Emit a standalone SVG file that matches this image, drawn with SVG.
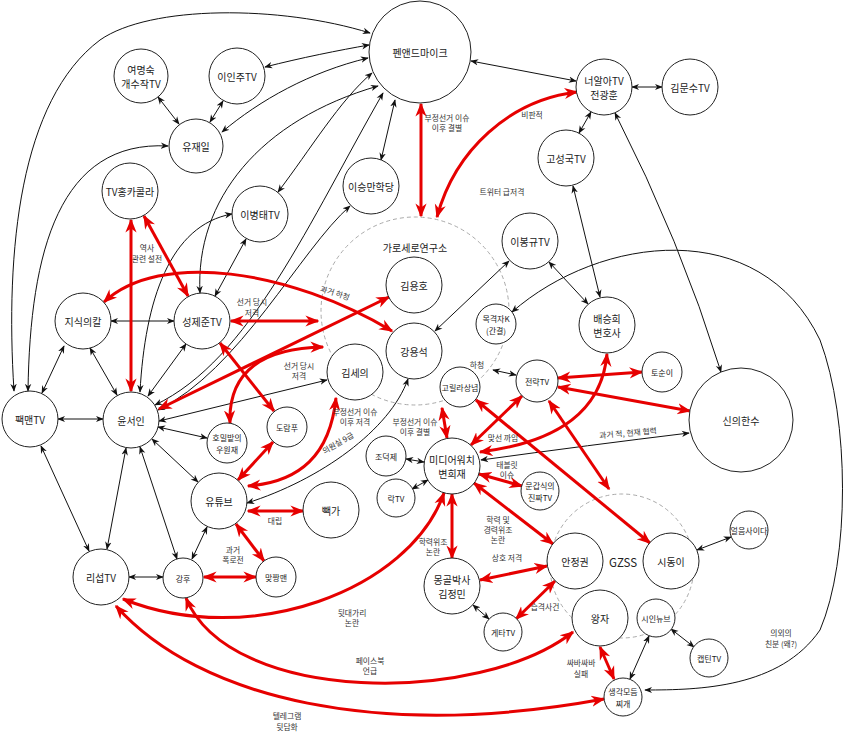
<svg xmlns="http://www.w3.org/2000/svg" width="850" height="732" viewBox="0 0 850 732">
<defs>
<style>
.n circle{fill:#fff;stroke:#222;stroke-width:1}
.g circle{fill:none;stroke:#aaa;stroke-width:1;stroke-dasharray:4 3}
text{font-family:"Noto Sans CJK KR","Noto Sans",sans-serif;text-anchor:middle;fill:#222}
.t{font-size:10px;dominant-baseline:central}
.s{font-size:8px;dominant-baseline:central}
.l{font-size:7.8px;fill:#333}
.b{fill:none;stroke:#111;stroke-width:1;marker-start:url(#ab);marker-end:url(#ab)}
.r{fill:none;stroke:#e60000;stroke-width:3;marker-start:url(#ar);marker-end:url(#ar)}
</style>
<marker id="ab" viewBox="0 0 10 10" refX="9" refY="5" markerWidth="8" markerHeight="8" markerUnits="userSpaceOnUse" orient="auto-start-reverse"><path d="M0,1 L10,5 L0,9 L3,5 z" fill="#111"/></marker>
<marker id="ar" viewBox="0 0 10 10" refX="9" refY="5" markerWidth="14" markerHeight="14" markerUnits="userSpaceOnUse" orient="auto-start-reverse"><path d="M0,1 L10,5 L0,9 L3,5 z" fill="#e60000"/></marker>
</defs>
<rect width="850" height="732" fill="#fff"/>

<g id="groups" class="g">
<circle cx="415" cy="311" r="94"/>
<circle cx="622" cy="566" r="72"/>
</g>

<g id="connectors">
<path class="b" d="M14,391 C5,250 20,100 100,40 C150,5 280,5 370,33"/>
<path class="b" d="M28,391 C30,250 60,140 168,146"/>
<path class="b" d="M158,97 L179,124"/>
<path class="b" d="M223,101 L210,122"/>
<path class="b" d="M265,67 C300,58 340,50 369,45"/>
<path class="b" d="M222,132 C260,100 310,72 368,58"/>
<path class="b" d="M278,192 C310,150 340,100 372,73"/>
<path class="b" d="M200,293 C195,200 260,120 378,86"/>
<path class="b" d="M140,392 C145,300 170,225 232,214"/>
<path class="b" d="M155,405 C250,360 310,220 383,93"/>
<path class="b" d="M158,410 C240,370 300,250 350,206"/>
<path class="b" d="M159,421 L327,380"/>
<path class="b" d="M381,160 L395,100"/>
<path class="b" d="M111,321 L174,321"/>
<path class="b" d="M64,346 L42,393"/>
<path class="b" d="M90,348 L117,395"/>
<path class="b" d="M186,344 L148,396"/>
<path class="b" d="M215,296 L246,239"/>
<path class="b" d="M58,419 L103,419"/>
<path class="b" d="M41,446 L89,551"/>
<path class="b" d="M126,448 L107,549"/>
<path class="b" d="M140,447 L177,559"/>
<path class="b" d="M158,427 L207,438"/>
<path class="b" d="M152,439 L198,482"/>
<path class="b" d="M207,527 L192,559"/>
<path class="b" d="M129,577 L163,577"/>
<path class="b" d="M247,503 C320,480 390,430 408,379"/>
<path class="b" d="M509,261 L435,331"/>
<path class="b" d="M549,262 L588,304"/>
<path class="b" d="M573,186 L600,297"/>
<path class="b" d="M591,112 L579,133"/>
<path class="b" d="M632,87 L662,87"/>
<path class="b" d="M471,61 L576,81"/>
<path class="b" d="M615,113 Q680,240 721,372"/>
<path class="b" d="M512,312 C600,235 760,215 820,340 C850,420 850,560 820,630 C780,688 700,690 645,690"/>
<path class="b" d="M493,370 L516,375"/>
<path class="b" d="M406,459 L424,462"/>
<path class="b" d="M412,489 L428,480"/>
<path class="b" d="M481,460 Q590,445 689,433"/>
<path class="b" d="M473,605 L489,619"/>
<path class="b" d="M697,550 L731,537"/>
<path class="b" d="M671,629 L694,647"/>
<path class="b" d="M649,636 L630,679"/>

<path class="r" d="M421,104 L421,216"/>
<path class="r" d="M437,217 C455,150 510,100 577,92"/>
<path class="r" d="M131,220 L131,391"/>
<path class="r" d="M144,216 L188,296"/>
<path class="r" d="M104,302 C160,250 290,270 392,331"/>
<path class="r" d="M231,321 L318,321"/>
<path class="r" d="M159,409 L389,297"/>
<path class="r" d="M220,343 L274,411"/>
<path class="r" d="M230,423 C228,370 265,348 323,347"/>
<path class="r" d="M273,442 L238,480"/>
<path class="r" d="M336,398 C330,455 300,482 248,486"/>
<path class="r" d="M248,511 L303,511"/>
<path class="r" d="M236,524 L264,561"/>
<path class="r" d="M204,577 L256,577"/>
<path class="r" d="M442,408 L447,438"/>
<path class="r" d="M480,452 C560,442 602,410 607,354"/>
<path class="r" d="M471,445 L522,396"/>
<path class="r" d="M558,378 L642,372"/>
<path class="r" d="M558,387 L690,411"/>
<path class="r" d="M549,401 L609,489"/>
<path class="r" d="M476,400 L650,543"/>
<path class="r" d="M479,474 L522,486"/>
<path class="r" d="M452,494 L452,558"/>
<path class="r" d="M474,483 L553,544"/>
<path class="r" d="M480,580 L547,566"/>
<path class="r" d="M516,619 L555,581"/>
<path class="r" d="M444,493 C410,590 250,650 123,599"/>
<path class="r" d="M186,598 C230,705 480,705 573,632"/>
<path class="r" d="M116,606 C200,700 380,740 604,699"/>
<path class="r" d="M600,647 L614,679"/>
</g>

<g id="edge-labels">
<text class="l" x="447" y="121">부정선거 이슈</text><text class="l" x="447" y="131">이후 결별</text>
<text class="l" x="532" y="118">비판적</text>
<text class="l" x="502" y="195">트위터 급저격</text>
<text class="l" x="147" y="251">역사</text><text class="l" x="147" y="262">관련 설전</text>
<text class="l" x="252" y="305">선거 당시</text><text class="l" x="252" y="316">저격</text>
<text class="l" x="335" y="296" transform="rotate(18 335 293)">과거 하청</text>
<text class="l" x="299" y="369">선거 당시</text><text class="l" x="299" y="379">저격</text>
<text class="l" x="355" y="415">부정선거 이슈</text><text class="l" x="355" y="425">이후 저격</text>
<text class="l" x="338" y="446" transform="rotate(-30 338 443)">의원실 9급</text>
<text class="l" x="415" y="425">부정선거 이슈</text><text class="l" x="415" y="435">이후 결별</text>
<text class="l" x="477" y="368">하청</text>
<text class="l" x="503" y="441">맞선 까임</text>
<text class="l" x="628" y="436" transform="rotate(-5 628 433)">과거 적, 현재 협력</text>
<text class="l" x="507" y="468">태블릿</text><text class="l" x="507" y="478">이슈</text>
<text class="l" x="498" y="523">학력 및</text><text class="l" x="498" y="533">경력위조</text><text class="l" x="498" y="543">논란</text>
<text class="l" x="433" y="545">학력위조</text><text class="l" x="433" y="555">논란</text>
<text class="l" x="507" y="561">상호 저격</text>
<text class="l" x="545" y="610">습격사건</text>
<text class="l" x="352" y="616">뒷대가리</text><text class="l" x="352" y="626">논란</text>
<text class="l" x="370" y="664">페이스북</text><text class="l" x="370" y="674">언급</text>
<text class="l" x="287" y="719">텔레그램</text><text class="l" x="287" y="730">뒷담화</text>
<text class="l" x="233" y="553">과거</text><text class="l" x="233" y="563">폭로전</text>
<text class="l" x="275" y="524">대립</text>
<text class="l" x="581" y="666">싸바싸바</text><text class="l" x="581" y="677">실패</text>
<text class="l" x="781" y="636">의외의</text><text class="l" x="781" y="647">친분 (왜?)</text>
</g>

<g id="group-labels">
<text class="t" x="415" y="247">가로세로연구소</text>
<text class="t" x="623" y="562" style="font-size:11.5px">GZSS</text>
</g>

<g id="pen" class="n"><circle cx="420" cy="52" r="51"/><text class="t" x="420" y="52">펜앤드마이크</text></g>
<g id="neoal" class="n"><circle cx="604" cy="87" r="28"/><text class="t" x="604" y="80">너알아TV</text><text class="t" x="604" y="94">전광훈</text></g>
<g id="kimmoonsoo" class="n"><circle cx="690" cy="87" r="28"/><text class="t" x="690" y="87">김문수TV</text></g>
<g id="goseongguk" class="n"><circle cx="566" cy="158" r="28"/><text class="t" x="566" y="158">고성국TV</text></g>
<g id="yeomyeongsuk" class="n"><circle cx="141" cy="76" r="27"/><text class="t" x="141" y="69">여명숙</text><text class="t" x="141" y="83">개수작TV</text></g>
<g id="ininju" class="n"><circle cx="237" cy="76" r="28"/><text class="t" x="237" y="76">이인주TV</text></g>
<g id="yujaeil" class="n"><circle cx="196" cy="146" r="27"/><text class="t" x="196" y="146">유재일</text></g>
<g id="hongka" class="n"><circle cx="130" cy="191" r="28"/><text class="t" x="130" y="191">TV홍카콜라</text></g>
<g id="byeongtae" class="n"><circle cx="260" cy="214" r="28"/><text class="t" x="260" y="214">이병태TV</text></g>
<g id="seungman" class="n"><circle cx="371" cy="186" r="28"/><text class="t" x="371" y="186">이승만학당</text></g>
<g id="kimyongho" class="n"><circle cx="414" cy="285" r="28"/><text class="t" x="414" y="285">김용호</text></g>
<g id="kangyongseok" class="n"><circle cx="414" cy="351" r="28"/><text class="t" x="414" y="351">강용석</text></g>
<g id="kimseui" class="n"><circle cx="355" cy="372" r="28"/><text class="t" x="355" y="372">김세의</text></g>
<g id="bonggyu" class="n"><circle cx="530" cy="241" r="28"/><text class="t" x="530" y="241">이봉규TV</text></g>
<g id="mokgyeok" class="n"><circle cx="496" cy="324" r="20"/><text class="s" x="496" y="318">목격자K</text><text class="s" x="496" y="330">(간결)</text></g>
<g id="gorilla" class="n"><circle cx="460" cy="387" r="20"/><text class="s" x="460" y="387">고릴라상념</text></g>
<g id="jeonryak" class="n"><circle cx="537" cy="381" r="21"/><text class="s" x="537" y="381">전략TV</text></g>
<g id="baeseunghui" class="n"><circle cx="607" cy="325" r="28"/><text class="t" x="607" y="318">배승희</text><text class="t" x="607" y="332">변호사</text></g>
<g id="tosun" class="n"><circle cx="662" cy="372" r="20"/><text class="s" x="662" y="372">토순이</text></g>
<g id="shinui" class="n"><circle cx="741" cy="420" r="52"/><text class="t" x="741" y="420">신의한수</text></g>
<g id="jisik" class="n"><circle cx="83" cy="321" r="28"/><text class="t" x="83" y="321">지식의칼</text></g>
<g id="seongjejun" class="n"><circle cx="202" cy="321" r="28"/><text class="t" x="202" y="321">성제준TV</text></g>
<g id="pacman" class="n"><circle cx="30" cy="419" r="28"/><text class="t" x="30" y="419">팩맨TV</text></g>
<g id="yunseoin" class="n"><circle cx="131" cy="420" r="28"/><text class="t" x="131" y="420">윤서인</text></g>
<g id="homil" class="n"><circle cx="227" cy="443" r="20"/><text class="s" x="227" y="437">호밀밭의</text><text class="s" x="227" y="449">우원재</text></g>
<g id="doram" class="n"><circle cx="287" cy="427" r="20"/><text class="s" x="287" y="427">도람푸</text></g>
<g id="youtube" class="n"><circle cx="219" cy="501" r="28"/><text class="t" x="219" y="501">유튜브</text></g>
<g id="ppaekga" class="n"><circle cx="331" cy="510" r="28"/><text class="t" x="331" y="510">빽가</text></g>
<g id="jodeok" class="n"><circle cx="386" cy="456" r="20"/><text class="s" x="386" y="456">조덕제</text></g>
<g id="rak" class="n"><circle cx="396" cy="498" r="19"/><text class="s" x="396" y="498">락TV</text></g>
<g id="mediawatch" class="n"><circle cx="452" cy="466" r="28"/><text class="t" x="452" y="459">미디어워치</text><text class="t" x="452" y="473">변희재</text></g>
<g id="mungapsik" class="n"><circle cx="540" cy="491" r="19"/><text class="s" x="540" y="485">문갑식의</text><text class="s" x="540" y="497">진짜TV</text></g>
<g id="mongol" class="n"><circle cx="452" cy="586" r="28"/><text class="t" x="452" y="579">몽골박사</text><text class="t" x="452" y="593">김정민</text></g>
<g id="geta" class="n"><circle cx="503" cy="632" r="19"/><text class="s" x="503" y="632">게타TV</text></g>
<g id="anjeong" class="n"><circle cx="575" cy="561" r="28"/><text class="t" x="575" y="561">안정권</text></g>
<g id="sidong" class="n"><circle cx="671" cy="561" r="28"/><text class="t" x="671" y="561">시동이</text></g>
<g id="wangja" class="n"><circle cx="600" cy="618" r="28"/><text class="t" x="600" y="618">왕자</text></g>
<g id="sinnew" class="n"><circle cx="656" cy="618" r="19"/><text class="s" x="656" y="618">시인뉴브</text></g>
<g id="eoreum" class="n"><circle cx="749" cy="530" r="19"/><text class="s" x="749" y="530">얼음사이다</text></g>
<g id="captain" class="n"><circle cx="709" cy="658" r="19"/><text class="s" x="709" y="658">캡틴TV</text></g>
<g id="saenggak" class="n"><circle cx="623" cy="697" r="19"/><text class="s" x="623" y="691">생각모듬</text><text class="s" x="623" y="703">찌개</text></g>
<g id="riseop" class="n"><circle cx="101" cy="577" r="28"/><text class="t" x="101" y="577">리섭TV</text></g>
<g id="kanghu" class="n"><circle cx="183" cy="578" r="20"/><text class="s" x="183" y="578">강후</text></g>
<g id="matjjang" class="n"><circle cx="276" cy="577" r="20"/><text class="s" x="276" y="577">맞짱맨</text></g>
</svg>
